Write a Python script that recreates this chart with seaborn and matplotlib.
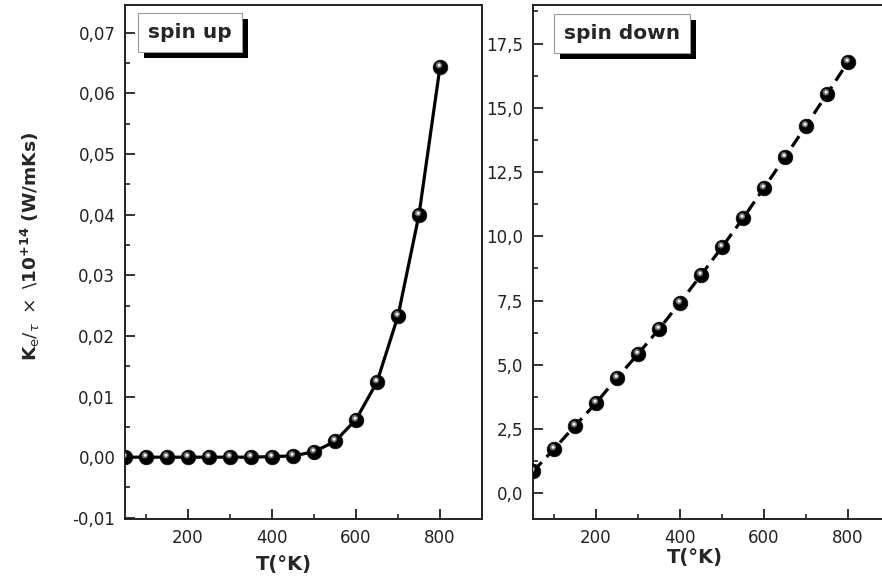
import matplotlib
matplotlib.use("Agg")
import matplotlib.pyplot as plt
import matplotlib.patheffects as pe
from matplotlib.markers import MarkerStyle
from matplotlib.ticker import FixedLocator, FixedFormatter, MultipleLocator
from matplotlib.transforms import Affine2D
import pandas as pd
import seaborn as sns

# data
T_K = [50, 100, 150, 200, 250, 300, 350, 400, 450, 500, 550, 600, 650, 700, 750, 800]
spin_up = [0.0000, 0.0000, 0.0000, 0.0000, 0.0000, 0.0000, 0.0000, 0.0001,
           0.0002, 0.0009, 0.0026, 0.0062, 0.0124, 0.0233, 0.0400, 0.0644]
spin_down = [0.85, 1.72, 2.63, 3.51, 4.49, 5.42, 6.39, 7.42,
             8.49, 9.58, 10.70, 11.88, 13.08, 14.30, 15.54, 16.78]

x_ticks = [200, 400, 600, 800]
x_ticklabels = ["200", "400", "600", "800"]
up_yticks = [-0.01, 0.00, 0.01, 0.02, 0.03, 0.04, 0.05, 0.06, 0.07]
up_yticklabels = ["-0,01", "0,00", "0,01", "0,02", "0,03", "0,04", "0,05", "0,06", "0,07"]
down_yticks = [0.0, 2.5, 5.0, 7.5, 10.0, 12.5, 15.0, 17.5]
down_yticklabels = ["0,0", "2,5", "5,0", "7,5", "10,0", "12,5", "15,0", "17,5"]

df = pd.DataFrame({"T": T_K, "up": spin_up, "down": spin_down})

sns.set_style("ticks")
plt.rcParams["font.family"] = ["DejaVu Sans"]
plt.rcParams["mathtext.fontset"] = "dejavusans"

fig = plt.figure(figsize=(8.82, 5.80), dpi=100)
ax1 = fig.add_axes([125 / 882, 61 / 580, 357 / 882, 514 / 580])
ax2 = fig.add_axes([533 / 882, 61 / 580, 357 / 882, 514 / 580])


def spheres(ax, col):
    # black ball with a soft highlight, to mimic the shaded spheres
    sns.scatterplot(x="T", y=col, data=df, ax=ax, s=110, color="black",
                    edgecolor="#111111", linewidth=0.6, zorder=3, legend=False)
    mid = MarkerStyle("o", transform=Affine2D().translate(-0.25, 0.35))
    sns.scatterplot(x="T", y=col, data=df, ax=ax, s=22, color="#6a6a6a",
                    marker=mid, linewidth=0, zorder=4, legend=False)
    hi = MarkerStyle("o", transform=Affine2D().translate(-0.45, 0.75))
    sns.scatterplot(x="T", y=col, data=df, ax=ax, s=5, color="#f2f2f2",
                    marker=hi, linewidth=0, zorder=5, legend=False)


sns.lineplot(x="T", y="up", data=df, ax=ax1, color="black", lw=2.3, zorder=2)
spheres(ax1, "up")
sns.lineplot(x="T", y="down", data=df, ax=ax2, color="black", lw=2.3, zorder=2)
ax2.lines[0].set_dashes((4, 2.2))
spheres(ax2, "down")

ax1.set_xlim(50, 900)
ax2.set_xlim(50, 900)
ax1.set_ylim(-0.0102, 0.0746)
ax2.set_ylim(-1.0, 19.0)

for ax, yt, ytl, ymin in [(ax1, up_yticks, up_yticklabels, 0.005),
                          (ax2, down_yticks, down_yticklabels, 1.25)]:
    ax.xaxis.set_major_locator(FixedLocator(x_ticks))
    ax.xaxis.set_major_formatter(FixedFormatter(x_ticklabels))
    ax.xaxis.set_minor_locator(MultipleLocator(100))
    ax.yaxis.set_major_locator(FixedLocator(yt))
    ax.yaxis.set_major_formatter(FixedFormatter(ytl))
    ax.yaxis.set_minor_locator(MultipleLocator(ymin))
    ax.tick_params(which="major", direction="in", length=7.5, width=1.3,
                   labelsize=12, labelcolor="#222222", color="#222222")
    ax.tick_params(which="minor", direction="in", length=3.8, width=1.2, color="#222222")
    ax.tick_params(axis="x", pad=7)
    ax.tick_params(axis="y", pad=7)
    for s in ax.spines.values():
        s.set_linewidth(1.4)
        s.set_color("#222222")
    ax.set_ylabel("")
    ax.set_xlabel("T(°K)", fontsize=14, fontweight="bold")

ax1.xaxis.set_label_coords(0.444, -0.071)
ax2.xaxis.set_label_coords(0.454, -0.056)

ax1.set_ylabel(r"$\mathbf{K}_{\mathrm{e}}{/}_{\tau}\ \times\ \backslash\mathbf{10^{+14}}\ \mathbf{(W/mKs)}$",
               fontsize=13.3)
ax1.yaxis.set_label_coords(-0.232, 0.531)

for ax, label, xc, yc in [(ax1, "spin up", 0.182, 0.947), (ax2, "spin down", 0.249, 0.945)]:
    t = ax.text(xc, yc, label, transform=ax.transAxes, ha="center", va="center",
                fontsize=14.5, fontweight="bold", zorder=6,
                bbox=dict(boxstyle="square,pad=0.5", fc="white", ec="#999999", lw=0.8))
    t.get_bbox_patch().set_path_effects(
        [pe.SimplePatchShadow(offset=(4.5, -4.5), shadow_rgbFace="black", alpha=1.0), pe.Normal()])

fig.savefig("out.png", dpi=100)
